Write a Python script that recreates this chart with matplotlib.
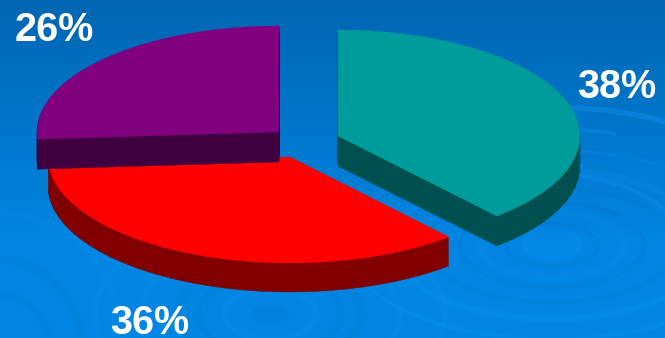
import numpy as np
import matplotlib
matplotlib.use("Agg")
import matplotlib.pyplot as plt
from matplotlib.patches import Ellipse, Polygon, Arc

# Pie data, clockwise from twelve o'clock
labels = ["38%", "36%", "26%"]
shares = [38, 36, 26]

# Drawing style for each slice
top_colors = ["#009B9B", "#FF0000", "#800080"]
side_colors = ["#005050", "#800000", "#400040"]
centers = [(338, 136), (290, 157), (279, 132)]
depths = [30, 29, 30]
label_pos = [(617, 98), (150, 334), (54, 41)]

RX, RY = 242, 106
SEG_DEG = 4.0  # coarse arc steps give the faceted rim
VIEW_SKEW = 2.2  # degrees of angular distortion from the tilted viewpoint

W, H = 665, 338
fig = plt.figure(figsize=(W / 100, H / 100), dpi=100)
ax = fig.add_axes([0, 0, 1, 1])
ax.set_xlim(0, W)
ax.set_ylim(H, 0)
ax.axis("off")

# Vertical blue gradient
top = np.array([0x00, 0x66, 0xB2]) / 255
bottom = np.array([0x00, 0x86, 0xE2]) / 255
t = np.clip(np.linspace(0, 1, H) / 0.72, 0, 1)[:, None, None]
grad = top[None, None, :] * (1 - t) + bottom[None, None, :] * t
ax.imshow(grad, extent=(0, W, H, 0), aspect="auto", zorder=0)

# Water ripples
LIGHT, DARK = "#1C9CFF", "#0064B4"


def ring(cx, cy, rx, lw, color, alpha, ratio=0.46):
    ax.add_patch(Ellipse((cx, cy), 2 * rx, 2 * rx * ratio, fill=False,
                         ec=color, lw=lw, alpha=alpha, zorder=1))


ax.add_patch(Ellipse((552, 245), 62, 30, fc=LIGHT, ec="none", alpha=0.14, zorder=1))
for rx, lw, col, a in [(46, 3, DARK, 0.14), (72, 5, LIGHT, 0.08), (92, 3, DARK, 0.12),
                       (125, 3, DARK, 0.10), (160, 5, LIGHT, 0.14), (205, 3, LIGHT, 0.14)]:
    ring(552, 245, rx, lw, col, a)
for theta1, theta2, rx, lw, a in [(262, 292, 150, 3, 0.30), (250, 300, 215, 3, 0.22),
                                  (262, 320, 255, 4, 0.30), (280, 350, 130, 3, 0.18)]:
    ax.add_patch(Arc((552, 245), 2 * rx, rx * 1.08, theta1=theta1, theta2=theta2,
                     ec=LIGHT, lw=lw, alpha=a, zorder=1))

ax.add_patch(Ellipse((270, 314), 38, 18, fc=DARK, ec="none", alpha=0.12, zorder=1))
for rx, lw, col, a in [(46, 4, LIGHT, 0.12), (72, 4, DARK, 0.12), (92, 6, DARK, 0.10),
                       (130, 4, LIGHT, 0.10), (175, 4, LIGHT, 0.10)]:
    ring(270, 314, rx, lw, col, a, ratio=0.55)
for rx, lw, col, a in [(50, 5, DARK, 0.08), (82, 6, DARK, 0.10), (125, 5, LIGHT, 0.08)]:
    ring(0, 350, rx, lw, col, a, ratio=1.1)

# Slices: an extruded side under a flat top
start = 90.0
for share, ctop, cside, (cx, cy), depth in zip(shares, top_colors, side_colors, centers, depths):
    sweep = 360.0 * share / sum(shares)
    n = max(2, int(round(sweep / SEG_DEG)))
    deg = np.linspace(start, start - sweep, n + 1)
    deg = deg - VIEW_SKEW * np.sin(np.radians(2 * (deg - 90)))
    ang = np.radians(deg)
    xs = cx + RX * np.cos(ang)
    ys = cy - RY * np.sin(ang)
    outline = np.column_stack([np.r_[cx, xs], np.r_[cy, ys]])
    for d in range(depth, 0, -1):
        ax.add_patch(Polygon(outline + [0, d], closed=True, fc=cside, ec=cside, lw=0.3, zorder=2))
    ax.add_patch(Polygon(outline, closed=True, fc=ctop, ec=ctop, lw=0.3, zorder=2))
    start -= sweep

for label, (x, y) in zip(labels, label_pos):
    ax.text(x, y, label, color="white", fontsize=28.5, fontweight="bold",
            family="Liberation Sans", ha="center", va="baseline", zorder=3)

fig.savefig("out.png", dpi=100)
